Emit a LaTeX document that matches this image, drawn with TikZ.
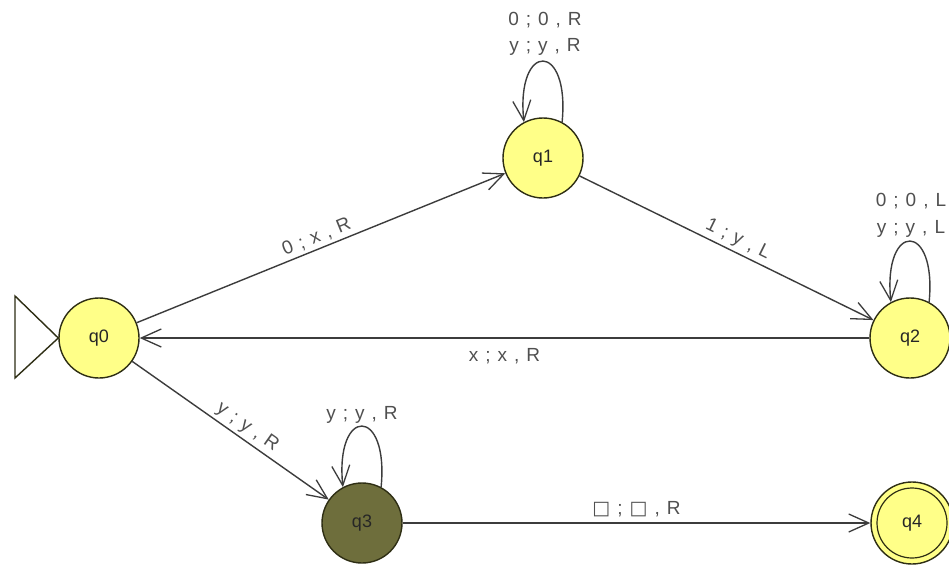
\documentclass[tikz,border=0pt]{standalone}
\usepackage{fontspec}
\setmainfont{Liberation Sans}
\newfontfamily\symfont{DejaVu Sans}
\usetikzlibrary{arrows.meta}
\definecolor{stfill}{HTML}{FFFF88}
\definecolor{selfill}{HTML}{6E6E3C}
\definecolor{stline}{HTML}{2E2E14}
\definecolor{edgecol}{HTML}{3C3C3C}
\definecolor{labcol}{HTML}{505050}
\newcommand\gp{\hspace{7pt}}
\newcommand\bx{{\symfont\fontsize{19}{20}\selectfont □}}
\tikzset{
  state/.style={circle, draw=stline, line width=1.4pt, fill=stfill, minimum size=80pt, inner sep=0pt,
    font=\fontsize{18}{20}\selectfont, text=black!85},
  selstate/.style={state, fill=selfill},
  edge/.style={draw=edgecol, line width=1.4pt, -{Straight Barb[length=20pt,width=18pt,line width=1.3pt]}},
  lbl/.style={font=\fontsize{19}{22}\selectfont, text=labcol, inner sep=3pt}
}
\begin{document}
\begin{tikzpicture}[x=1pt,y=-1pt]
\fill[white] (0,0) rectangle (949,565);
\useasboundingbox (0,0) rectangle (949,565);

\node[state] (q0) at (99,338) {q0};
\node[state] (q1) at (543,158) {q1};
\node[state] (q2) at (910,338) {q2};
\node[selstate] (q3) at (362,523) {q3};
\node[state, minimum size=82pt] (q4) at (912,523) {q4};
\draw[stline, line width=1.2pt] (q4.center) circle (35pt);

% initial state marker
\coordinate (t1) at (15,296);
\coordinate (t2) at (15,378);
\draw[stline, line width=1.4pt] (t1) -- (q0.west) -- (t2) -- cycle;

% transitions
\draw[edge] (q0) -- node[lbl, sloped, above, pos=0.5] {0\gp;\gp x\gp,\gp R} (q1);
\draw[edge] (q1) -- node[lbl, sloped, above, pos=0.52] {1\gp;\gp y\gp,\gp L} (q2);
\draw[edge] (q2) -- node[lbl, below=7pt, pos=0.5] {x\gp;\gp x\gp,\gp R} (q0);
\draw[edge] (q0) -- node[lbl, sloped, above, pos=0.55] {y\gp;\gp y\gp,\gp R} (q3);
\draw[edge] (q3) -- node[lbl, above=2pt, pos=0.5] {\bx\gp;\gp\bx\gp,\gp R} (q4);

% loops
\draw[edge] (q1.62) .. controls +(8,-81) and +(-8,-81) .. (q1.118);
\draw[edge] (q2.62) .. controls +(8,-81) and +(-8,-81) .. (q2.118);
\draw[edge] (q3.62) .. controls +(8,-81) and +(-8,-81) .. (q3.118);

\node[lbl] (l1a) at (545,20) {0\gp;\gp 0\gp,\gp R};
\node[lbl] (l1b) at (545,47) {y\gp;\gp y\gp,\gp R};
\node[lbl] (l2a) at (911,201) {0\gp;\gp 0\gp,\gp L};
\node[lbl] (l2b) at (911,229) {y\gp;\gp y\gp,\gp L};
\node[lbl] (l3a) at (362,415) {y\gp;\gp y\gp,\gp R};
\end{tikzpicture}
\end{document}
